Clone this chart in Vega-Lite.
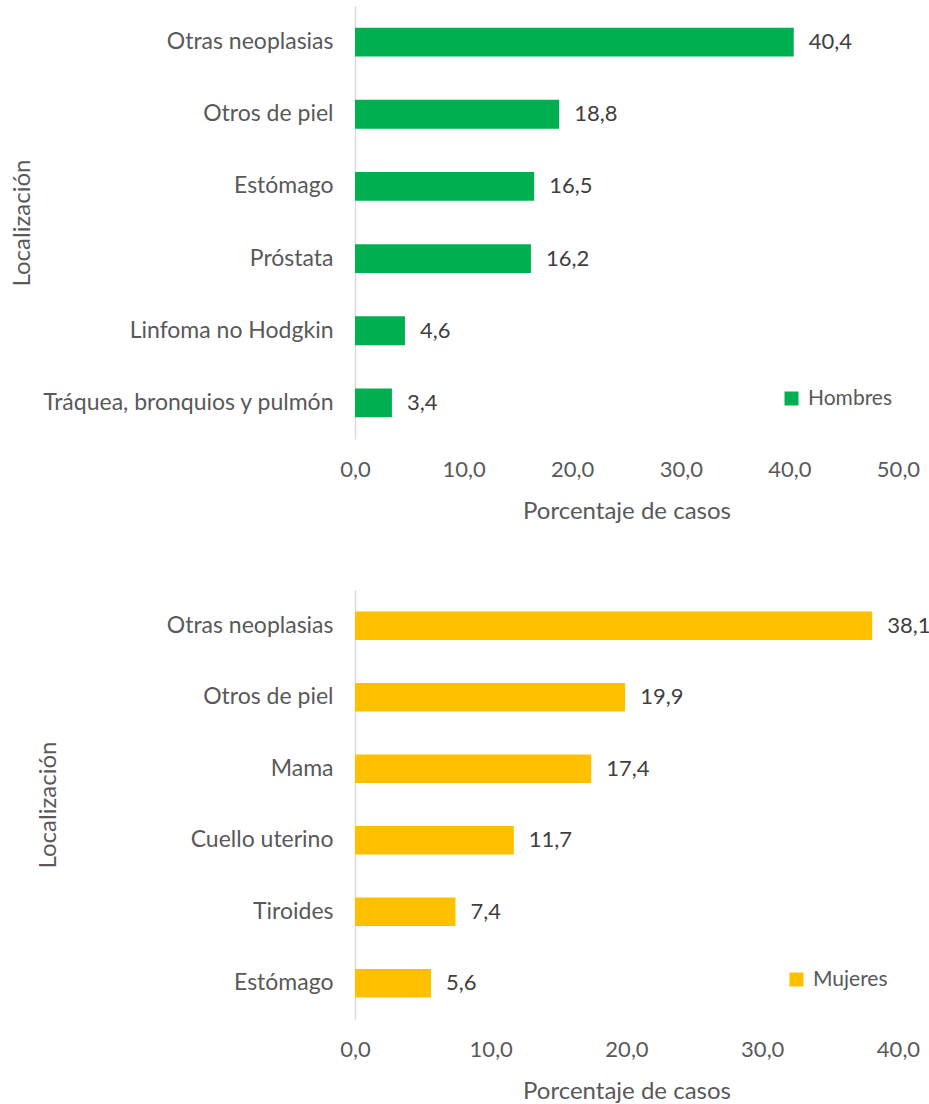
{
  "$schema": "https://vega.github.io/schema/vega-lite/v6.json",
  "background": "white",
  "padding": {"left": 10, "top": 6, "right": 5, "bottom": 0},
  "config": {
    "locale": {"number": {"decimal": ",", "thousands": ".", "grouping": [3], "currency": ["", " €"]}},
    "font": "Lato",
    "view": {"stroke": null},
    "axis": {"labelColor": "#595959", "titleColor": "#595959", "labelFont": "Lato", "titleFont": "Lato", "titleFontWeight": "normal"},
    "legend": {"labelColor": "#595959", "labelFont": "Lato"},
    "concat": {"spacing": 67}
  },
  "datasets": {
    "hombres": [
      {"localizacion": "Otras neoplasias ", "porcentaje": 40.4, "sexo": "Hombres"},
      {"localizacion": "Otros de piel", "porcentaje": 18.8, "sexo": "Hombres"},
      {"localizacion": "Estómago", "porcentaje": 16.5, "sexo": "Hombres"},
      {"localizacion": "Próstata", "porcentaje": 16.2, "sexo": "Hombres"},
      {"localizacion": "Linfoma no Hodgkin", "porcentaje": 4.6, "sexo": "Hombres"},
      {"localizacion": "Tráquea, bronquios y pulmón", "porcentaje": 3.4, "sexo": "Hombres"}
    ],
    "mujeres": [
      {"localizacion": "Otras neoplasias ", "porcentaje": 38.1, "sexo": "Mujeres"},
      {"localizacion": "Otros de piel", "porcentaje": 19.9, "sexo": "Mujeres"},
      {"localizacion": "Mama", "porcentaje": 17.4, "sexo": "Mujeres"},
      {"localizacion": "Cuello uterino", "porcentaje": 11.7, "sexo": "Mujeres"},
      {"localizacion": "Tiroides", "porcentaje": 7.4, "sexo": "Mujeres"},
      {"localizacion": "Estómago", "porcentaje": 5.6, "sexo": "Mujeres"}
    ]
  },
  "resolve": {"scale": {"color": "independent", "y": "independent", "x": "independent"}, "legend": {"color": "independent"}},
  "vconcat": [
    {
      "width": 543,
      "height": 433,
      "data": {"name": "hombres"},
      "encoding": {
        "y": {"field": "localizacion", "type": "nominal", "sort": null,
          "scale": {"paddingInner": 0.6, "paddingOuter": 0.3},
          "axis": {"title": "Localización", "titleFontSize": 24, "labelFontSize": 23, "labelPadding": 22, "ticks": false, "domainColor": "#d9d9d9", "domainWidth": 1.5, "titleX": -326, "titleBaseline": "alphabetic", "titleAngle": 270, "labelLimit": 400}},
        "x": {"field": "porcentaje", "type": "quantitative",
          "scale": {"domain": [0, 50], "nice": false},
          "axis": {"title": "Porcentaje de casos", "titleFontSize": 24, "labelFontSize": 22, "format": ".1f", "values": [0, 10, 20, 30, 40, 50], "domain": false, "ticks": false, "grid": false, "labelPadding": 20, "titleY": 79, "titleBaseline": "alphabetic", "labelFlush": false}}
      },
      "layer": [
        {
          "mark": {"type": "bar"},
          "encoding": {
            "color": {"field": "sexo", "type": "nominal", "scale": {"domain": ["Hombres"], "range": ["#00B050"]},
              "legend": {"title": null, "orient": "none", "legendX": 426, "legendY": 382, "symbolType": "square", "symbolSize": 196, "symbolStrokeWidth": 0, "labelFontSize": 21, "labelOffset": 6, "symbolOpacity": 1}}
          }
        },
        {
          "mark": {"type": "text", "align": "left", "baseline": "middle", "dx": 15, "fontSize": 22, "color": "#404040"},
          "encoding": {"text": {"field": "porcentaje", "type": "quantitative", "format": ".1f"}}
        }
      ]
    },
    {
      "width": 543,
      "height": 429,
      "data": {"name": "mujeres"},
      "encoding": {
        "y": {"field": "localizacion", "type": "nominal", "sort": null,
          "scale": {"paddingInner": 0.6, "paddingOuter": 0.3},
          "axis": {"title": "Localización", "titleFontSize": 24, "labelFontSize": 23, "labelPadding": 22, "ticks": false, "domainColor": "#d9d9d9", "domainWidth": 1.5, "titleX": -300, "titleBaseline": "alphabetic", "titleAngle": 270, "labelLimit": 400}},
        "x": {"field": "porcentaje", "type": "quantitative",
          "scale": {"domain": [0, 40], "nice": false},
          "axis": {"title": "Porcentaje de casos", "titleFontSize": 24, "labelFontSize": 22, "format": ".1f", "values": [0, 10, 20, 30, 40], "domain": false, "ticks": false, "grid": false, "labelPadding": 20, "titleY": 79, "titleBaseline": "alphabetic", "labelFlush": false}}
      },
      "layer": [
        {
          "mark": {"type": "bar"},
          "encoding": {
            "color": {"field": "sexo", "type": "nominal", "scale": {"domain": ["Mujeres"], "range": ["#FFC000"]},
              "legend": {"title": null, "orient": "none", "legendX": 431, "legendY": 379, "symbolType": "square", "symbolSize": 196, "symbolStrokeWidth": 0, "labelFontSize": 21, "labelOffset": 6, "symbolOpacity": 1}}
          }
        },
        {
          "mark": {"type": "text", "align": "left", "baseline": "middle", "dx": 15, "fontSize": 22, "color": "#404040"},
          "encoding": {"text": {"field": "porcentaje", "type": "quantitative", "format": ".1f"}}
        }
      ]
    }
  ]
}
